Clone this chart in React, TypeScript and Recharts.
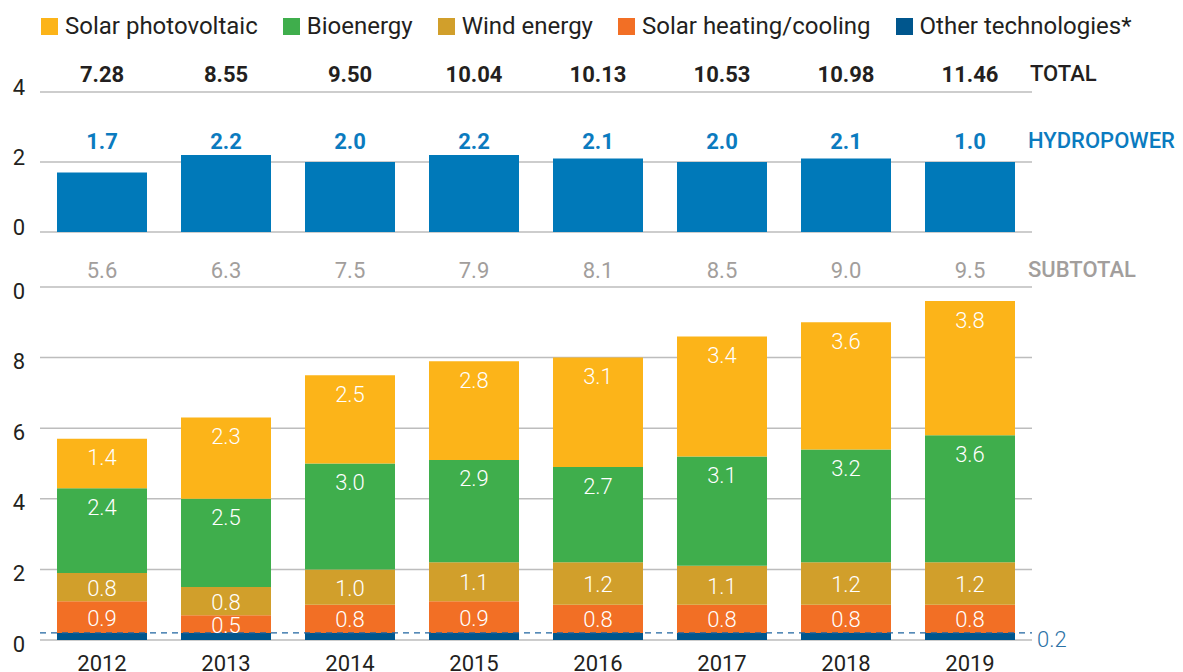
import React from 'react';
import { BarChart, Bar, XAxis, YAxis, CartesianGrid, LabelList, ReferenceLine } from 'recharts';

// ---------- data ----------
const years = ['2012', '2013', '2014', '2015', '2016', '2017', '2018', '2019'];
const totalLabels = ['7.28', '8.55', '9.50', '10.04', '10.13', '10.53', '10.98', '11.46'];
const hydropower = [1.7, 2.2, 2.0, 2.2, 2.1, 2.0, 2.1, 2.0];
const hydroLabels = ['1.7', '2.2', '2.0', '2.2', '2.1', '2.0', '2.1', '1.0'];
const subtotalLabels = ['5.6', '6.3', '7.5', '7.9', '8.1', '8.5', '9.0', '9.5'];
const otherTech = [0.2, 0.2, 0.2, 0.2, 0.2, 0.2, 0.2, 0.2];
const solarHeating = [0.9, 0.5, 0.8, 0.9, 0.8, 0.8, 0.8, 0.8];
const windEnergy = [0.8, 0.8, 1.0, 1.1, 1.2, 1.1, 1.2, 1.2];
const bioenergy = [2.4, 2.5, 3.0, 2.9, 2.7, 3.1, 3.2, 3.6];
const solarPV = [1.4, 2.3, 2.5, 2.8, 3.1, 3.4, 3.6, 3.8];
const otherRefValue = 0.2;
const topTicks = [0, 2, 4];
const bottomTicks = [0, 2, 4, 6, 8, 10];

const legendItems = [
  { name: 'Solar photovoltaic', color: '#FCB419' },
  { name: 'Bioenergy', color: '#3FAE4C' },
  { name: 'Wind energy', color: '#D19F2B' },
  { name: 'Solar heating/cooling', color: '#F26F25' },
  { name: 'Other technologies*', color: '#00568D' },
];

const topData = years.map((y, i) => ({
  year: y,
  hydro: hydropower[i],
  hydroLabel: hydroLabels[i],
  totalLabel: totalLabels[i],
}));

const bottomData = years.map((y, i) => ({
  year: y,
  other: otherTech[i],
  heating: solarHeating[i],
  wind: windEnergy[i],
  bio: bioenergy[i],
  pv: solarPV[i],
  subtotalLabel: subtotalLabels[i],
}));

// ---------- styles ----------
const FONT = 'Roboto, sans-serif';
const TEXT = '#231F20';
const GRID = '#BDBDBD';
const HYDRO = '#0079B9';
const HYDRO_TEXT = '#0B7BBF';
const GRAY_TEXT = '#A29E9C';
const DASH = '#1F64A0';

const makeYTick = (shift: number) => (props: any) => {
  const { x, y, payload } = props;
  const v = payload.value;
  return (
    <g>
      {v === 10 && (
        <defs>
          <clipPath id="clip10">
            <rect x={12} y={y - 20} width={40} height={40} />
          </clipPath>
        </defs>
      )}
      <text
        x={x}
        y={y + shift}
        textAnchor="end"
        dominantBaseline="central"
        fontSize={22}
        fontFamily={FONT}
        fill={TEXT}
        clipPath={v === 10 ? 'url(#clip10)' : undefined}
      >
        {v}
      </text>
    </g>
  );
};

const XTick = (props: any) => {
  const { x, y, payload } = props;
  return (
    <text x={x} y={y + 31} textAnchor="middle" fontSize={22} fontFamily={FONT} fill={TEXT}>
      {payload.value}
    </text>
  );
};

const rowLabel = (dy: number, fill: string, weight: number) => (props: any) => {
  const { x, y, width, height, value } = props;
  const base = Number(y) + Number(height);
  return (
    <text
      x={Number(x) + Number(width) / 2}
      y={base + dy}
      textAnchor="middle"
      dominantBaseline="central"
      fontSize={22}
      fontWeight={weight}
      fontFamily={FONT}
      fill={fill}
    >
      {value}
    </text>
  );
};

const insideLabel = (mode: 'top' | 'center') => (props: any) => {
  const { x, y, width, height, value } = props;
  const cy = mode === 'top' ? Number(y) + 19 : Number(y) + Number(height) / 2 + 1;
  return (
    <text
      x={Number(x) + Number(width) / 2}
      y={cy}
      textAnchor="middle"
      dominantBaseline="central"
      fontSize={22}
      fontWeight={300}
      fontFamily={FONT}
      fill="#FFFFFF"
    >
      {Number(value).toFixed(1)}
    </text>
  );
};

const DashLabel = (props: any) => {
  const vb = props.viewBox || {};
  return (
    <text
      x={vb.x + vb.width + 5}
      y={vb.y + 7}
      dominantBaseline="central"
      fontSize={22}
      fontWeight={300}
      fontFamily={FONT}
      fill="#2B72A6"
    >
      {otherRefValue}
    </text>
  );
};

const rowTitle = (top: number, left: number, text: string, color: string, weight: number) => (
  <div
    style={{
      position: 'absolute',
      top: top - 13,
      left,
      height: 26,
      lineHeight: '26px',
      fontSize: 22,
      fontWeight: weight,
      color,
      fontFamily: FONT,
      whiteSpace: 'nowrap',
    }}
  >
    {text}
  </div>
);

export default function App() {
  return (
    <div
      style={{
        position: 'absolute',
        left: 0,
        top: 0,
        width: 1183,
        height: 672,
        overflow: 'hidden',
        background: '#FFFFFF',
        fontFamily: FONT,
      }}
    >
      {/* legend */}
      <div
        style={{
          position: 'absolute',
          top: 12,
          left: 41,
          display: 'flex',
          alignItems: 'center',
          gap: 25,
          height: 28,
          whiteSpace: 'nowrap',
        }}
      >
        {legendItems.map((it) => (
          <div key={it.name} style={{ display: 'flex', alignItems: 'center' }}>
            <span style={{ display: 'inline-block', width: 17, height: 17, background: it.color, marginRight: 7 }} />
            <span style={{ fontSize: 24, color: TEXT, lineHeight: '28px' }}>{it.name}</span>
          </div>
        ))}
      </div>

      {/* top panel: hydropower */}
      <div style={{ position: 'absolute', left: 0, top: 0 }}>
        <BarChart width={1183} height={250} data={topData} margin={{ top: 92, right: 151, bottom: 18, left: 0 }}>
          <CartesianGrid horizontal vertical={false} stroke={GRID} strokeWidth={1.5} />
          <XAxis dataKey="year" hide />
          <YAxis
            domain={[0, 4]}
            ticks={topTicks}
            width={40}
            axisLine={false}
            tickLine={false}
            tickSize={0}
            tickMargin={15}
            tick={makeYTick(-5)}
          />
          <Bar dataKey="hydro" fill={HYDRO} barSize={90} isAnimationActive={false}>
            <LabelList dataKey="hydroLabel" content={rowLabel(-91, HYDRO_TEXT, 700)} />
            <LabelList dataKey="totalLabel" content={rowLabel(-158, TEXT, 700)} />
          </Bar>
        </BarChart>
      </div>

      {/* bottom panel: other renewables */}
      <div style={{ position: 'absolute', left: 0, top: 250 }}>
        <BarChart width={1183} height={422} data={bottomData} margin={{ top: 37, right: 151, bottom: 0, left: 0 }}>
          <CartesianGrid horizontal vertical={false} stroke={GRID} strokeWidth={1.5} />
          <XAxis
            dataKey="year"
            height={32}
            axisLine={false}
            tickLine={false}
            tickSize={0}
            tickMargin={0}
            tick={<XTick />}
            interval={0}
          />
          <YAxis
            domain={[0, 10]}
            ticks={bottomTicks}
            width={40}
            axisLine={false}
            tickLine={false}
            tickSize={0}
            tickMargin={15}
            tick={makeYTick(4)}
          />
          <Bar dataKey="other" stackId="s" fill="#00568D" barSize={90} isAnimationActive={false}>
            <LabelList dataKey="subtotalLabel" content={rowLabel(-370, GRAY_TEXT, 400)} />
          </Bar>
          <Bar dataKey="heating" stackId="s" fill="#F26F25" barSize={90} isAnimationActive={false}>
            <LabelList dataKey="heating" content={insideLabel('center')} />
          </Bar>
          <Bar dataKey="wind" stackId="s" fill="#D19F2B" barSize={90} isAnimationActive={false}>
            <LabelList dataKey="wind" content={insideLabel('center')} />
          </Bar>
          <Bar dataKey="bio" stackId="s" fill="#3FAE4C" barSize={90} isAnimationActive={false}>
            <LabelList dataKey="bio" content={insideLabel('top')} />
          </Bar>
          <Bar dataKey="pv" stackId="s" fill="#FCB419" barSize={90} isAnimationActive={false}>
            <LabelList dataKey="pv" content={insideLabel('top')} />
          </Bar>
          <ReferenceLine
            y={otherRefValue}
            stroke={DASH}
            strokeDasharray="6 5"
            strokeWidth={1.2}
            label={<DashLabel />}
          />
        </BarChart>
      </div>

      {rowTitle(74, 1030, 'TOTAL', TEXT, 500)}
      {rowTitle(141, 1028, 'HYDROPOWER', HYDRO_TEXT, 500)}
      {rowTitle(270, 1028, 'SUBTOTAL', GRAY_TEXT, 500)}
    </div>
  );
}
